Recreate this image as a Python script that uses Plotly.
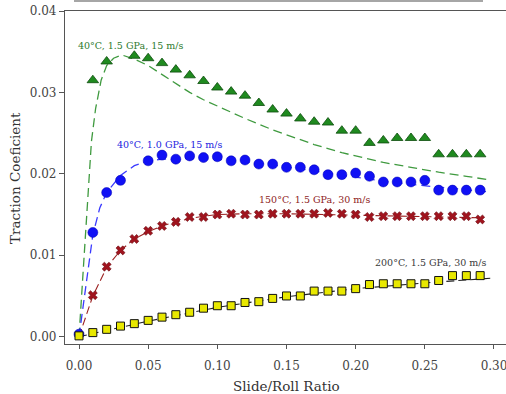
import plotly.graph_objects as go

# measured points (slide/roll ratio 0.00 ... 0.29)
sr = [round(i * 0.01, 2) for i in range(30)]

green_pts = [None, 0.0315, 0.0338, None, 0.0345, 0.0342, 0.0336, 0.0328, 0.0321, 0.0314,
             0.0306, 0.0301, 0.0296, 0.0287, 0.0279, 0.0274, 0.0268, 0.0264, 0.0263, 0.0253,
             0.0253, 0.0238, 0.0241, 0.0244, 0.0244, 0.0244, 0.0224, 0.0224, 0.0224, 0.0224]

blue_pts = [0.0003, 0.0128, 0.0177, 0.0192, None, 0.0216, 0.0223, 0.0218, 0.0222, 0.0220,
            0.0221, 0.0216, 0.0217, 0.0212, 0.0212, 0.0208, 0.0208, 0.0205, 0.0199, 0.0199,
            0.0201, 0.0197, 0.0190, 0.0190, 0.0190, 0.0192, 0.0180, 0.0180, 0.0180, 0.0180]

red_pts = [None, 0.0051, 0.0086, 0.0106, 0.0120, 0.0130, 0.0136, 0.0141, 0.0147, 0.0147,
           0.0150, 0.0151, 0.0150, 0.0150, 0.0151, 0.0151, 0.0151, 0.0151, 0.0152, 0.0151,
           0.0150, 0.0147, 0.0148, 0.0148, 0.0148, 0.0148, 0.0148, 0.0148, 0.0148, 0.0144]

yellow_pts = [0.0001, 0.0005, 0.0009, 0.0013, 0.0016, 0.0020, 0.0024, 0.0027, 0.0030, 0.0035,
              0.0038, 0.0038, 0.0042, 0.0043, 0.0047, 0.0050, 0.0050, 0.0056, 0.0056, 0.0056,
              0.0059, 0.0064, 0.0065, 0.0065, 0.0065, 0.0065, 0.0069, 0.0075, 0.0075, 0.0075]

# model curves
green_mx = [0, 0.003, 0.005, 0.0067, 0.009, 0.012, 0.016, 0.02, 0.025, 0.031, 0.04, 0.05, 0.06,
            0.07, 0.08, 0.09, 0.10, 0.11, 0.12, 0.13, 0.14, 0.15, 0.16, 0.17, 0.18, 0.19, 0.20,
            0.22, 0.24, 0.26, 0.28, 0.295]
green_my = [0, 0.008, 0.013, 0.018, 0.024, 0.028, 0.0315, 0.0333, 0.0342, 0.0346, 0.0341, 0.0333,
            0.0322, 0.0311, 0.0300, 0.0291, 0.0283, 0.0276, 0.0268, 0.0261, 0.0254, 0.0248, 0.0242,
            0.0236, 0.0231, 0.0226, 0.0222, 0.0214, 0.0208, 0.0202, 0.0197, 0.0193]

blue_mx = [0, 0.005, 0.01, 0.015, 0.02, 0.03, 0.04, 0.05, 0.06, 0.08, 0.10, 0.12, 0.14, 0.16,
           0.18, 0.20, 0.22, 0.24, 0.26, 0.28, 0.295]
blue_my = [0, 0.0065, 0.0125, 0.0158, 0.0177, 0.0198, 0.0210, 0.0216, 0.0218, 0.0219, 0.0218,
           0.0215, 0.0211, 0.0206, 0.0201, 0.0196, 0.0191, 0.0187, 0.0184, 0.0181, 0.0178]

red_mx = [0, 0.01, 0.02, 0.03, 0.04, 0.05, 0.06, 0.07, 0.08, 0.09, 0.10, 0.12, 0.15, 0.18,
          0.21, 0.24, 0.27, 0.29]
red_my = [0, 0.0050, 0.0085, 0.0106, 0.0120, 0.0129, 0.0136, 0.0141, 0.0145, 0.0148, 0.0150,
          0.0151, 0.0151, 0.0150, 0.0149, 0.0148, 0.0147, 0.0146]

yellow_mx = [0, 0.05, 0.10, 0.15, 0.20, 0.25, 0.30]
yellow_my = [0, 0.0019, 0.0036, 0.0049, 0.0059, 0.0066, 0.0072]

labels = ["40°C, 1.5 GPa, 15 m/s", "40°C, 1.0 GPa, 15 m/s",
          "150°C, 1.5 GPa, 30 m/s", "200°C, 1.5 GPa, 30 m/s"]

xticks = [0.0, 0.05, 0.10, 0.15, 0.20, 0.25, 0.30]
xtick_text = ["0.00", "0.05", "0.10", "0.15", "0.20", "0.25", "0.30"]
yticks = [0.0, 0.01, 0.02, 0.03, 0.04]
ytick_text = ["0.00", "0.01", "0.02", "0.03", "0.04"]

FONT = "DejaVu Serif"

fig = go.Figure()

fig.add_trace(go.Scatter(x=green_mx, y=green_my, mode="lines",
                         line=dict(color="#3f9a3f", width=1.3, dash="9px,5px")))
fig.add_trace(go.Scatter(x=blue_mx, y=blue_my, mode="lines",
                         line=dict(color="#3a3aff", width=1.3, dash="9px,5px")))
fig.add_trace(go.Scatter(x=red_mx, y=red_my, mode="lines",
                         line=dict(color="#9b2020", width=1.1, dash="8px,4px")))
fig.add_trace(go.Scatter(x=yellow_mx, y=yellow_my, mode="lines",
                         line=dict(color="#222222", width=1.1, dash="8px,4px")))

fig.add_trace(go.Scatter(x=sr, y=green_pts, mode="markers",
                         marker=dict(symbol="triangle-up", size=10, color="#1f8a1f",
                                     line=dict(color="#0d4d0d", width=0.8))))
fig.add_trace(go.Scatter(x=sr, y=blue_pts, mode="markers",
                         marker=dict(symbol="circle", size=10, color="#1010f5",
                                     line=dict(color="#0000b0", width=0.5))))
fig.add_trace(go.Scatter(x=sr, y=red_pts, mode="markers",
                         marker=dict(symbol="x", size=8, color="#a0141e",
                                     line=dict(color="#6a0a10", width=0.6))))
fig.add_trace(go.Scatter(x=sr, y=yellow_pts, mode="markers",
                         marker=dict(symbol="square", size=8, color="#e8e800",
                                     line=dict(color="#111111", width=1))))

ann_font = dict(family=FONT, size=9.5)
annotations = [
    dict(x=0.0375, y=0.0358, text=labels[0], font=dict(ann_font, color="#2d7a2d")),
    dict(x=0.0655, y=0.0236, text=labels[1], font=dict(ann_font, color="#2323e0")),
    dict(x=0.1705, y=0.0168, text=labels[2], font=dict(ann_font, color="#8e1c1c")),
    dict(x=0.2545, y=0.0091, text=labels[3], font=dict(ann_font, color="#3a3a3a")),
]
for a in annotations:
    a.update(xref="x", yref="y", showarrow=False, xanchor="center", yanchor="middle")

annotations.append(dict(xref="paper", yref="paper", x=0.503, y=-0.126, text="Slide/Roll Ratio",
                        showarrow=False, xanchor="center", yanchor="middle",
                        font=dict(family=FONT, size=13.5, color="#333333")))
annotations.append(dict(xref="paper", yref="paper", x=-0.1134, y=0.4985,
                        text="Traction Coeficient", textangle=-90,
                        showarrow=False, xanchor="center", yanchor="middle",
                        font=dict(family=FONT, size=13.5, color="#333333")))

fig.update_layout(
    width=506, height=394,
    margin=dict(l=65, r=0, t=11, b=50),
    paper_bgcolor="white", plot_bgcolor="white",
    showlegend=False,
    annotations=annotations,
    font=dict(family=FONT, size=12, color="#444444"),
    shapes=[dict(type="line", xref="paper", yref="paper", x0=(74 - 65) / 441, x1=(483 - 65) / 441,
                 y0=(344 - 1) / 333, y1=(344 - 1) / 333, line=dict(color="#888888", width=1.5))],
)

fig.update_xaxes(range=[-0.01012, 0.30868], tickvals=xticks, ticktext=xtick_text,
                 showgrid=False, zeroline=False, showline=True, linecolor="#555555",
                 linewidth=1.2, mirror=True, ticks="outside", ticklen=4, tickcolor="#555555",
                 ticklabelstandoff=6, ticklabeloverflow="allow",
                 tickfont=dict(family=FONT, size=12, color="#444444"))
fig.update_yaxes(range=[-0.0009, 0.04], tickvals=yticks, ticktext=ytick_text,
                 showgrid=False, zeroline=False, showline=True, linecolor="#555555",
                 linewidth=1.2, ticks="outside", ticklen=5, tickcolor="#555555",
                 tickfont=dict(family=FONT, size=12, color="#444444"))

fig.write_html("out.html")
